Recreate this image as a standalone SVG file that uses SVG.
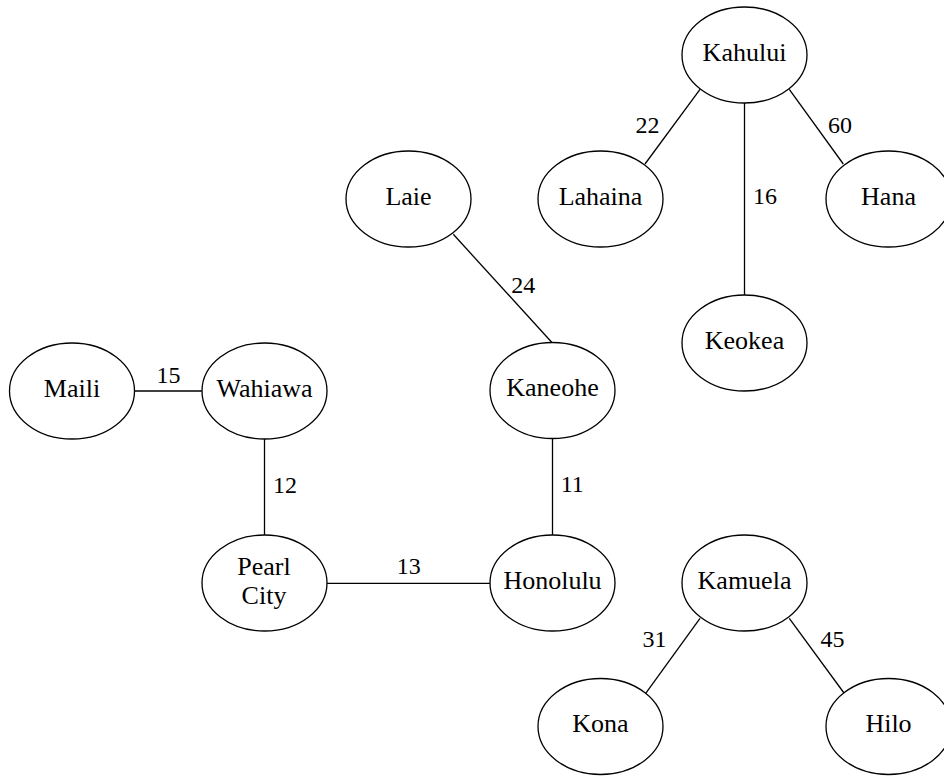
<svg xmlns="http://www.w3.org/2000/svg" width="944" height="776" viewBox="0 0 944 776">
<style>
.n ellipse{fill:#fff;stroke:#000;stroke-width:1.3}
.n text,.lbl text{font-family:"Liberation Serif","DejaVu Serif",serif;font-size:26px;fill:#000;text-anchor:middle}
.lbl text{font-size:24px}
#edges line{stroke:#000;stroke-width:1.3}
</style>
<rect width="944" height="776" fill="#fff"/>
<g id="edges">
<line x1="700" y1="89.3" x2="645" y2="164"/>
<line x1="789.3" y1="89.3" x2="843.3" y2="164"/>
<line x1="744.5" y1="103" x2="744.5" y2="295"/>
<line x1="453.3" y1="234.3" x2="551.7" y2="342.3"/>
<line x1="134.5" y1="391" x2="202" y2="391"/>
<line x1="264.5" y1="439" x2="264.5" y2="535"/>
<line x1="552.5" y1="438.5" x2="552.5" y2="535"/>
<line x1="327" y1="583.3" x2="490" y2="583.3"/>
<line x1="700" y1="618.3" x2="645.7" y2="693.3"/>
<line x1="789.3" y1="618.3" x2="844" y2="693"/>
</g>
<g class="lbl" id="edge-labels">
<text x="647.5" y="133">22</text>
<text x="840" y="133">60</text>
<text x="765" y="204">16</text>
<text x="523.3" y="293.3">24</text>
<text x="168.5" y="383">15</text>
<text x="285" y="493">12</text>
<text x="572.3" y="492.3">11</text>
<text x="408.7" y="574.3">13</text>
<text x="654.5" y="647">31</text>
<text x="832.5" y="647">45</text>
</g>
<g class="n" id="kahului"><ellipse cx="744.5" cy="55" rx="62.5" ry="48"/><text x="744.5" y="60.5">Kahului</text></g>
<g class="n" id="lahaina"><ellipse cx="600.5" cy="199" rx="62.5" ry="48"/><text x="600.5" y="204.5">Lahaina</text></g>
<g class="n" id="hana"><ellipse cx="888.5" cy="199" rx="62.5" ry="48"/><text x="888.5" y="204.5">Hana</text></g>
<g class="n" id="laie"><ellipse cx="408.5" cy="199" rx="62.5" ry="48"/><text x="408.5" y="204.5">Laie</text></g>
<g class="n" id="keokea"><ellipse cx="744.5" cy="343" rx="62.5" ry="48"/><text x="744.5" y="348.5">Keokea</text></g>
<g class="n" id="maili"><ellipse cx="72" cy="391" rx="62.5" ry="48"/><text x="72" y="396.5">Maili</text></g>
<g class="n" id="wahiawa"><ellipse cx="264.5" cy="391" rx="62.5" ry="48"/><text x="264.5" y="396.5">Wahiawa</text></g>
<g class="n" id="kaneohe"><ellipse cx="552.5" cy="390.5" rx="62.5" ry="48"/><text x="552.5" y="396">Kaneohe</text></g>
<g class="n" id="pearl-city"><ellipse cx="264.5" cy="583" rx="62.5" ry="48"/><text x="264" y="575">Pearl</text><text x="264" y="604">City</text></g>
<g class="n" id="honolulu"><ellipse cx="552.5" cy="583" rx="62.5" ry="48"/><text x="552.5" y="588.5">Honolulu</text></g>
<g class="n" id="kamuela"><ellipse cx="744.5" cy="583" rx="62.5" ry="48"/><text x="744.5" y="588.5">Kamuela</text></g>
<g class="n" id="kona"><ellipse cx="600.5" cy="726.5" rx="62.5" ry="48"/><text x="600.5" y="732">Kona</text></g>
<g class="n" id="hilo"><ellipse cx="888.5" cy="726.5" rx="62.5" ry="48"/><text x="888.5" y="732">Hilo</text></g>
</svg>
